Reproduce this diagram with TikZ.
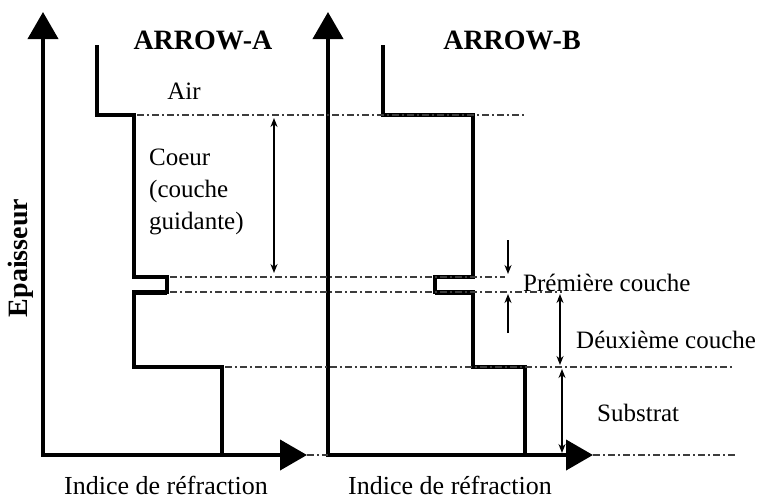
\documentclass[tikz,border=0pt]{standalone}
\usepackage{fontspec}
\setmainfont{Liberation Serif}
\usetikzlibrary{positioning,arrows.meta,calc}
\definecolor{inkBlack}{HTML}{000000}
\definecolor{levelGray}{HTML}{3C3C3C}
\tikzset{
    axisline/.style={draw=inkBlack,line width=4pt,
        {Triangle[length=27pt,width=30pt]}-{Triangle[length=27pt,width=30pt]}},
    profile/.style={draw=inkBlack,line width=3.5pt,line join=miter},
    level/.style={draw=levelGray,line width=2pt,dash pattern=on 7pt off 3pt on 2pt off 3pt},
    dimarrow/.style={draw=inkBlack,line width=1.6pt,>={Stealth[length=9pt,width=7pt]}},
    lbl/.style={inner sep=0pt,font=\fontsize{25}{32}\selectfont},
    axislabel/.style={inner sep=0pt,font=\fontsize{26}{32}\selectfont},
    titlelbl/.style={inner sep=0pt,font=\fontsize{28}{32}\selectfont\bfseries}
}
\begin{document}
\begin{tikzpicture}[x=1pt,y=-1pt]
    \useasboundingbox (0,0) rectangle (758,499);
    % axes
    \coordinate (topA) at (43,12);
    \coordinate (endA) at (307,455);
    \coordinate (topB) at (328,12);
    \coordinate (endB) at (593,455);
    \draw[axisline] (topA) |- (endA);
    \draw[axisline] (topB) |- (endB);
    % index profiles
    \draw[profile] (97,45) |- (134,115) |- (167,277) |- (134,292) |- (222,367) -- (222,455);
    \draw[profile,line width=5pt] (167,292) -- (132,292);
    \draw[profile] (383,45) |- (473,115) |- (435,277) |- (473,292) |- (525,367) -- (525,455);
    \draw[profile,line width=5pt] (435,292) -- (475,292);
    % interface levels
    \draw[level] (137,115) -- (525,115);
    \draw[level] (170,277) -- (505,277);
    \draw[level] (170,292) -- (562,292);
    \draw[level] (225,367) -- (733,367);
    \draw[level] (endA) -- (topB |- endA);
    \draw[level] (endB) -- (736,455);
    % thickness arrows
    \coordinate (coeurTop) at (274,118);
    \coordinate (coeurBot) at (274,273);
    \coordinate (pcAbove) at (508,240);
    \coordinate (pcTop) at (508,274);
    \coordinate (pcBelow) at (508,333);
    \coordinate (pcBot) at (508,294);
    \coordinate (dcTop) at (560,294);
    \coordinate (dcBot) at (560,365);
    \coordinate (subTop) at (562,369);
    \coordinate (subBot) at (562,453);
    \draw[dimarrow,<->] (coeurTop) -- (coeurBot);
    \draw[dimarrow,->] (pcAbove) -- (pcTop);
    \draw[dimarrow,->] (pcBelow) -- (pcBot);
    \draw[dimarrow,<->] (dcTop) -- (dcBot);
    \draw[dimarrow,<->] (subTop) -- (subBot);
    % labels
    \node[titlelbl] (titleA) at (203,40) {ARROW-A};
    \node[titlelbl] (titleB) at (512,40) {ARROW-B};
    \node[lbl] (air) at (184,91) {Air};
    \node[lbl,anchor=north west,align=left] (coeur) at (149,149) {Coeur\\(couche\\guidante)};
    \node[lbl,anchor=west] (premiere) at (523,283) {Prémière couche};
    \node[lbl,anchor=west] (deuxieme) at (576,340) {Déuxième couche};
    \node[lbl,anchor=west] (substrat) at (597,413) {Substrat};
    \node[axislabel] (indexA) at (166,485) {Indice de réfraction};
    \node[axislabel] (indexB) at (450,485) {Indice de réfraction};
    \node[axislabel,font=\fontsize{28}{32}\selectfont\bfseries,rotate=90] (epais) at (21,258) {Epaisseur};
\end{tikzpicture}
\end{document}
